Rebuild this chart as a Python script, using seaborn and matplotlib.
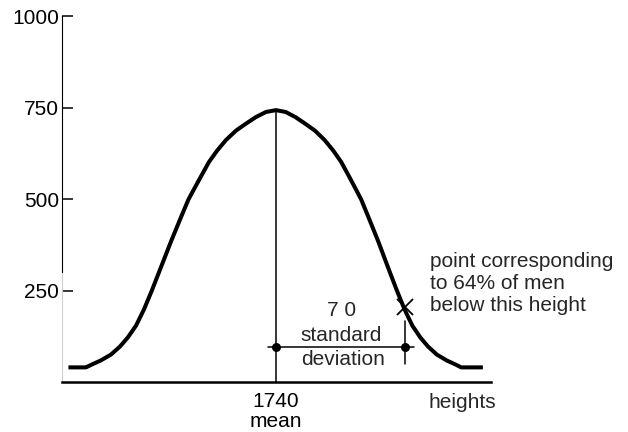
import matplotlib
matplotlib.use("Agg")
import matplotlib.pyplot as plt
import seaborn as sns
import pandas as pd

# Frequency curve of men's heights (mm) against number of men
heights = [1627.3, 1636.8, 1640.1, 1644.9, 1650.4, 1655.3, 1659.6, 1664.0,
           1668.3, 1672.6, 1677.5, 1683.0, 1688.4, 1692.5, 1695.5, 1699.3,
           1703.6, 1708.0, 1712.8, 1718.3, 1723.7, 1729.1, 1734.6, 1740.0,
           1745.3, 1750.6, 1755.9, 1761.2, 1766.5, 1771.2, 1775.5, 1779.7,
           1783.4, 1786.3, 1790.3, 1795.6, 1800.9, 1805.7, 1809.9, 1814.1,
           1818.4, 1822.6, 1827.4, 1832.7, 1837.5, 1840.6, 1852.4]
counts = [40, 40, 48, 59, 75, 97, 122, 154,
          198, 250, 313, 384, 450, 499, 527, 562,
          601, 632, 661, 687, 706, 724, 738, 743,
          738, 724, 706, 687, 661, 632, 601, 562,
          527, 499, 450, 384, 313, 250, 198, 154,
          122, 97, 75, 59, 48, 40, 40]

mean_height = 1740
mean_count = 743
std_dev = 70
bracket_level = 95
marked_height = 1810
marked_count = 204

y_ticks = [250, 500, 750, 1000]
y_tick_labels = ["250", "500", "750", "1000"]

sns.set_style("white")
plt.rcParams["font.family"] = ["Liberation Sans", "DejaVu Sans"]
plt.rcParams["font.size"] = 15

fig = plt.figure(figsize=(6.28, 4.32), dpi=100)
ax = fig.add_axes([0.0987, 0.1157, 0.6831, 0.847])

df = pd.DataFrame({"height": heights, "count": counts})
sns.lineplot(data=df, x="height", y="count", ax=ax, estimator=None,
             sort=False, color="black", linewidth=2.9,
             solid_joinstyle="round", solid_capstyle="butt")

# mean line
ax.plot([mean_height, mean_height], [0, mean_count], color="black", lw=1.1)

# one standard deviation bracket
ax.plot([mean_height - 4.3, mean_height + std_dev + 4.8],
        [bracket_level, bracket_level], color="black", lw=1.1)
ax.plot([mean_height + std_dev, mean_height + std_dev], [50, 168],
        color="black", lw=1.1)
sns.scatterplot(x=[mean_height, mean_height + std_dev],
                y=[bracket_level, bracket_level], ax=ax, s=42,
                color="black", edgecolor="black", linewidth=0, zorder=5)

# marked point on the curve
ax.plot([marked_height], [marked_count], marker="x", color="black",
        markersize=11.5, markeredgewidth=1.3, linestyle="none")

ax.text(1775.4, 195, "7 0", ha="center", va="center", fontsize=15)
ax.text(1775.4, 127, "standard", ha="center", va="center", fontsize=15)
ax.text(1776.5, 61, "deviation", ha="center", va="center", fontsize=15)
ax.text(1823.7, 268, "point corresponding\nto 64% of men\nbelow this height",
        ha="left", va="center", fontsize=15, linespacing=1.2)

ax.set_xlim(1623.8, 1856.8)
ax.set_ylim(0, 1000)

ax.set_yticks(y_ticks, labels=y_tick_labels)
ax.set_xticks([mean_height], labels=[f"{mean_height}\nmean"])
for lab in ax.get_xticklabels():
    lab.set_linespacing(1.05)
ax.tick_params(axis="y", left=True, direction="in", length=8, width=1.1,
               pad=2, labelsize=15, color="black", labelcolor="black")
ax.tick_params(axis="x", bottom=False, length=0, pad=7.5, labelsize=15,
               labelcolor="black")
ax.set_xlabel("heights", fontsize=15)
ax.xaxis.set_label_coords(0.9336, -0.030)
ax.set_ylabel("")

for side in ("top", "right"):
    ax.spines[side].set_visible(False)
ax.spines["left"].set_color("black")
ax.spines["left"].set_linewidth(0.8)
ax.spines["left"].set_bounds(300, 1000)
ax.axvline(ax.get_xlim()[0], ymin=0, ymax=0.3, color="#cfcfcf", lw=0.8)
ax.spines["bottom"].set_color("black")
ax.spines["bottom"].set_linewidth(1.8)

fig.savefig("out.png", dpi=100)
